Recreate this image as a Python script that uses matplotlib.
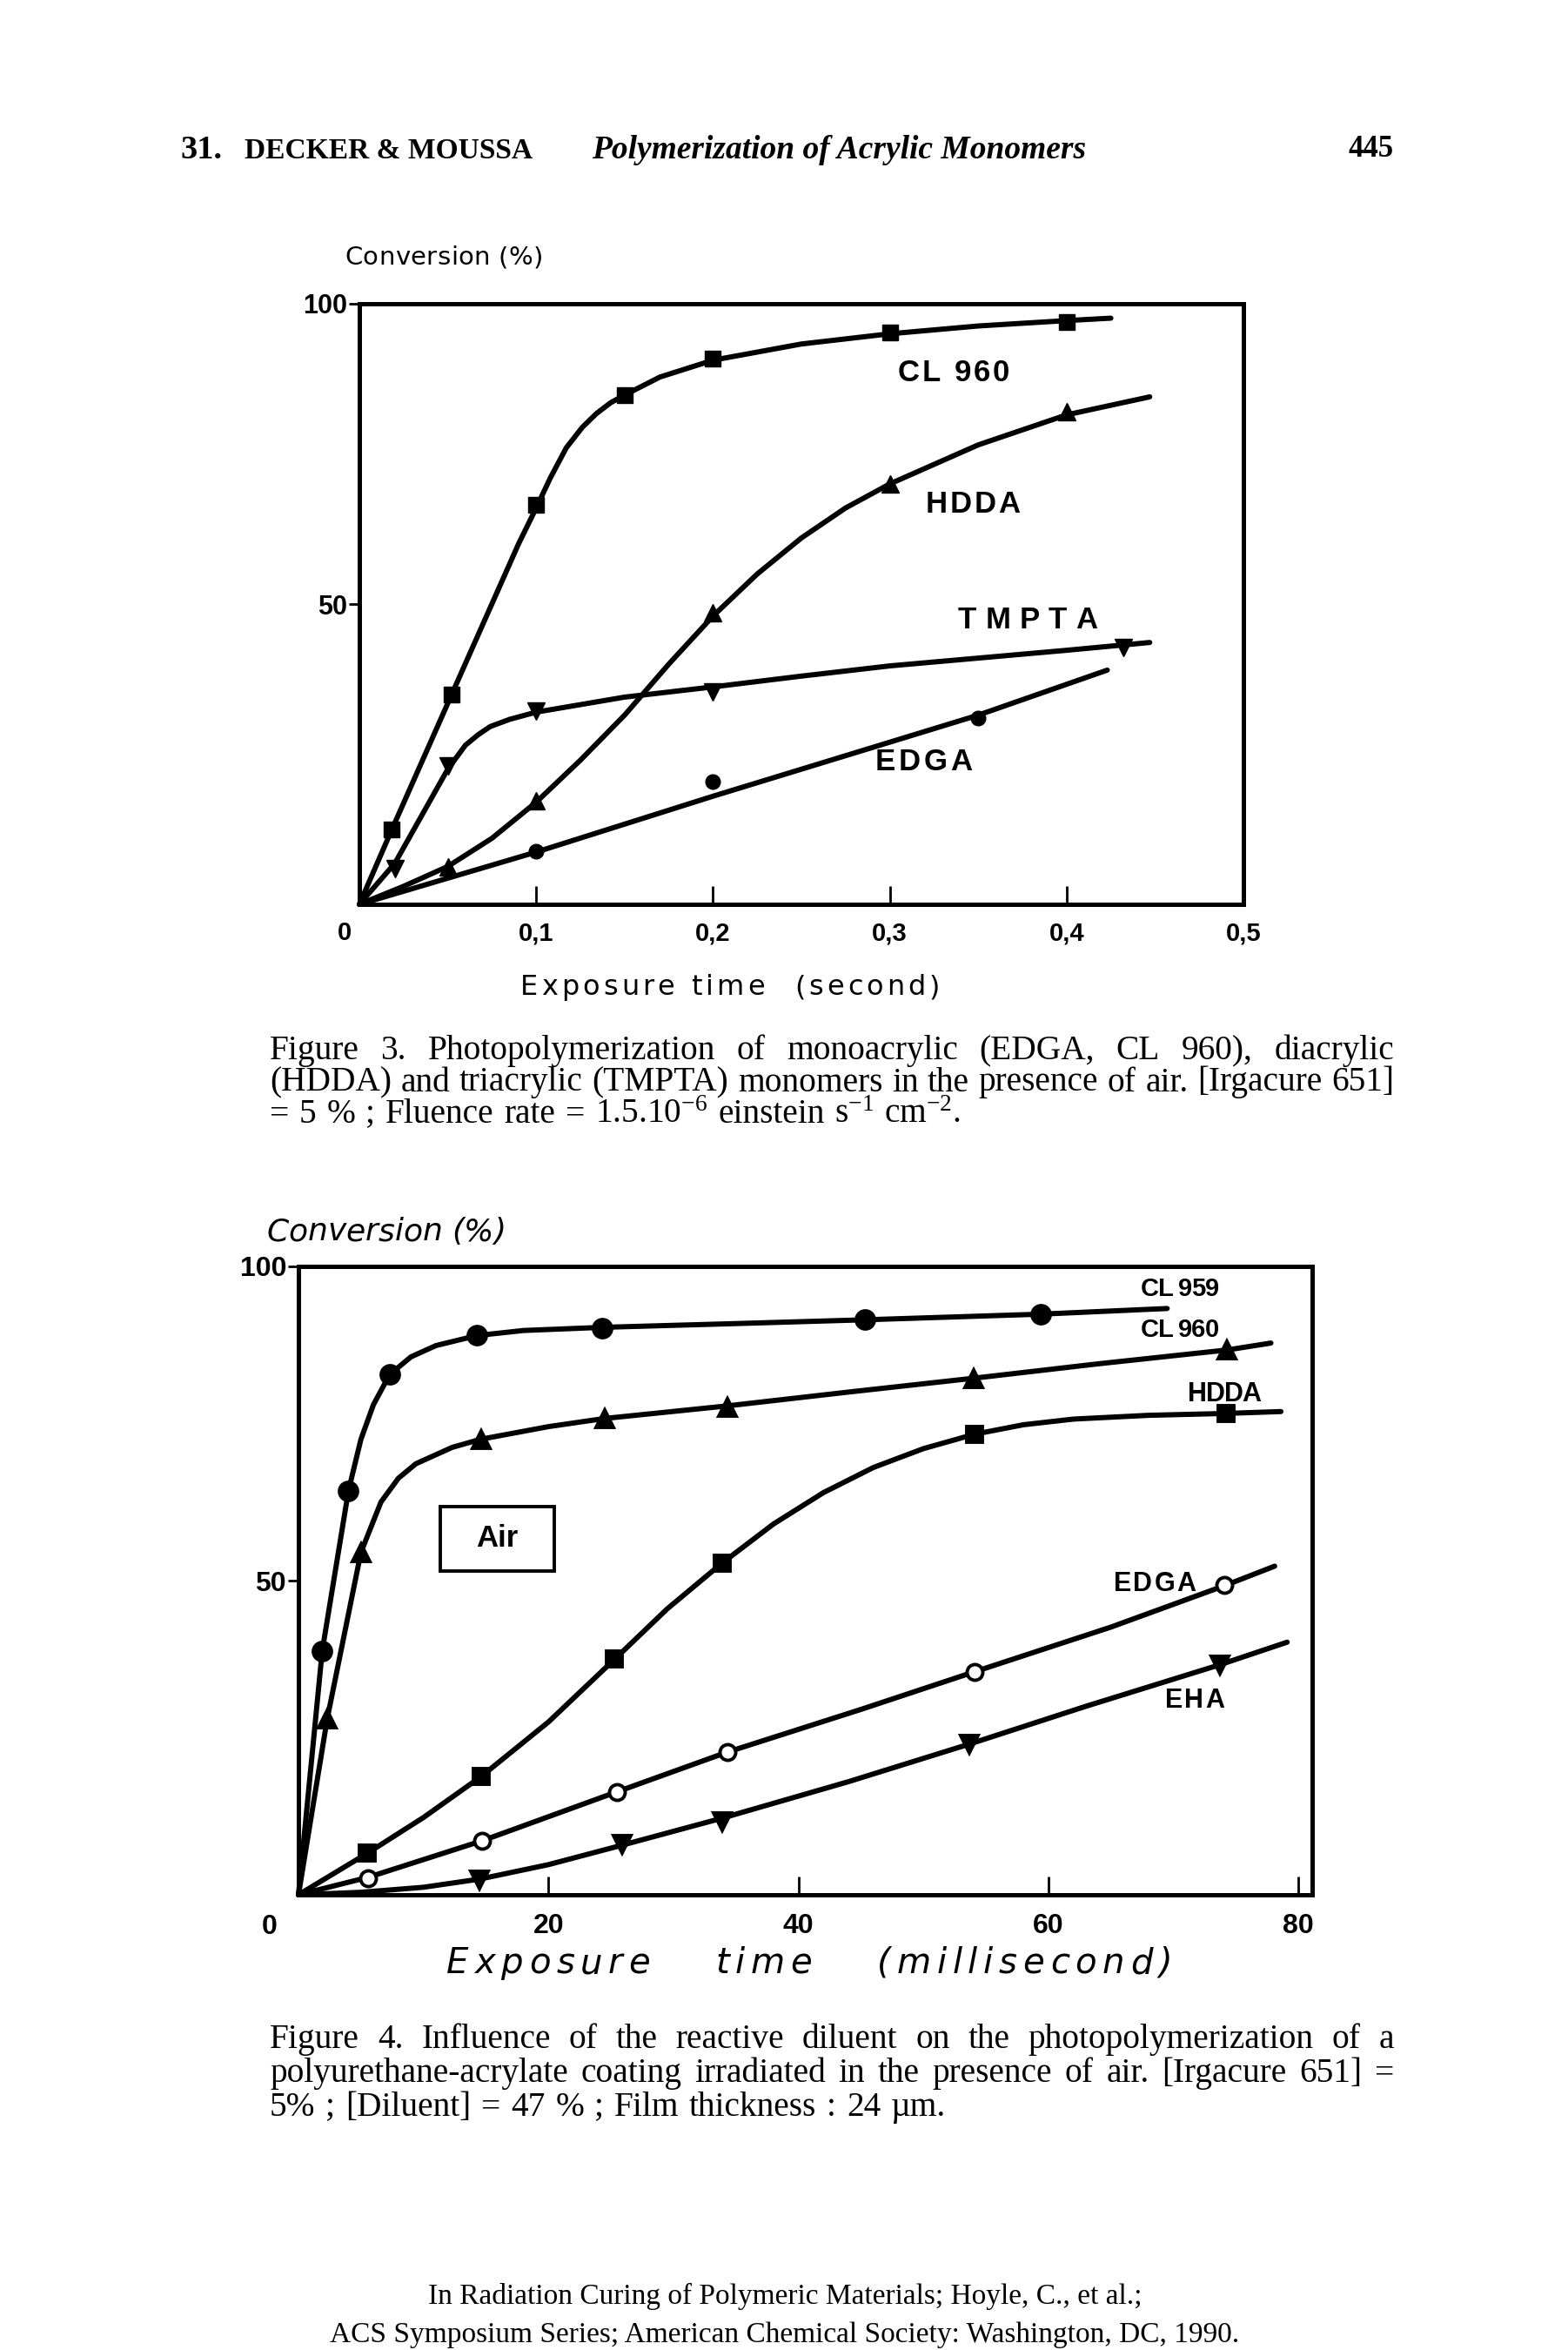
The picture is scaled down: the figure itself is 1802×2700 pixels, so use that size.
import matplotlib
matplotlib.use('Agg')
import matplotlib.pyplot as plt
from matplotlib.patches import Rectangle

plt.rcParams['mathtext.fontset'] = 'custom'
plt.rcParams['mathtext.rm'] = 'Liberation Serif'
plt.rcParams['mathtext.it'] = 'Liberation Serif:italic'
plt.rcParams['mathtext.bf'] = 'Liberation Serif:bold'

# ---------------- Figure 3 data (x: second, y: conversion %) ----------------
f3_xticks = [0.1, 0.2, 0.3, 0.4, 0.5]
f3_xticklabels = ['0,1', '0,2', '0,3', '0,4', '0,5']
f3_yticks = [50, 100]
f3_yticklabels = ['50', '100']

f3_cl960_mx = [0.018, 0.052, 0.100, 0.150, 0.200, 0.300, 0.400]
f3_cl960_my = [12.5, 35.0, 66.5, 84.8, 90.8, 95.2, 97.0]
f3_cl960_cx = [0, 0.018, 0.052, 0.09, 0.10, 0.108, 0.117, 0.126, 0.134, 0.142, 0.15, 0.17, 0.20, 0.25, 0.30, 0.35, 0.40, 0.425]
f3_cl960_cy = [0, 12.2, 34.8, 60.0, 66.0, 71.0, 76.0, 79.4, 81.7, 83.5, 84.8, 87.8, 90.6, 93.3, 95.0, 96.3, 97.2, 97.6]

f3_hdda_mx = [0.05, 0.10, 0.20, 0.30, 0.40]
f3_hdda_my = [6.2, 17.2, 48.5, 70.0, 82.0]
f3_hdda_cx = [0, 0.025, 0.05, 0.075, 0.10, 0.125, 0.15, 0.175, 0.20, 0.225, 0.25, 0.275, 0.30, 0.35, 0.40, 0.447]
f3_hdda_cy = [0, 3.0, 6.3, 11.0, 17.0, 24.0, 31.5, 40.0, 48.0, 55.0, 61.0, 66.0, 70.0, 76.5, 81.5, 84.5]

f3_tmpta_mx = [0.02, 0.05, 0.10, 0.20, 0.432]
f3_tmpta_my = [6.0, 23.0, 32.2, 35.3, 42.8]
f3_tmpta_cx = [0, 0.02, 0.05, 0.06, 0.067, 0.074, 0.085, 0.10, 0.15, 0.20, 0.25, 0.30, 0.35, 0.40, 0.447]
f3_tmpta_cy = [0, 6.8, 22.5, 26.5, 28.2, 29.6, 30.8, 32.0, 34.5, 36.2, 38.0, 39.7, 41.0, 42.3, 43.6]

f3_edga_mx = [0.10, 0.20, 0.35]
f3_edga_my = [8.8, 20.5, 31.0]
f3_edga_cx = [0, 0.10, 0.20, 0.30, 0.35, 0.423]
f3_edga_cy = [0, 8.7, 18.0, 27.0, 31.5, 39.0]

f3_labels = ['CL 960', 'HDDA', 'TMPTA', 'EDGA']
f3_label_x = [0.336, 0.347, 0.378, 0.319]
f3_label_y = [88.9, 67.0, 47.7, 24.1]

# ---------------- Figure 4 data (x: millisecond, y: conversion %) ----------------
f4_xticks = [20, 40, 60, 80]
f4_xticklabels = ['20', '40', '60', '80']
f4_yticks = [50, 100]
f4_yticklabels = ['50', '100']

f4_cl959_mx = [1.9, 4.0, 7.3, 14.3, 24.3, 45.3, 59.4]
f4_cl959_my = [38.8, 64.3, 82.8, 89.0, 90.2, 91.5, 92.4]
f4_cl959_cx = [0, 1.9, 4.0, 5.0, 6.0, 7.3, 9.0, 11.0, 14.3, 18.0, 24.3, 35.0, 45.3, 59.4, 69.5]
f4_cl959_cy = [0, 38.8, 64.3, 72.5, 78.0, 82.8, 85.6, 87.4, 89.0, 89.8, 90.3, 90.9, 91.5, 92.4, 93.3]

f4_cl960_mx = [2.3, 5.0, 14.6, 24.5, 34.3, 54.0, 74.3]
f4_cl960_my = [28.0, 54.5, 72.4, 75.8, 77.6, 82.2, 86.7]
f4_cl960_cx = [0, 2.3, 5.0, 6.6, 8.0, 9.4, 12.3, 14.6, 20.0, 24.5, 34.3, 44.0, 54.0, 64.0, 74.3, 77.8]
f4_cl960_cy = [0, 28.0, 54.5, 62.5, 66.3, 68.6, 71.2, 72.5, 74.5, 75.8, 77.8, 80.0, 82.2, 84.5, 86.7, 87.8]

f4_hdda_mx = [5.5, 14.6, 25.3, 33.9, 54.1, 74.2]
f4_hdda_my = [6.6, 18.8, 37.5, 52.8, 73.3, 76.6]
f4_hdda_cx = [0, 5.5, 10.0, 14.6, 20.0, 25.3, 29.5, 33.9, 38.0, 42.0, 46.0, 50.0, 54.1, 58.0, 62.0, 68.0, 74.2, 78.6]
f4_hdda_cy = [0, 6.6, 12.3, 18.8, 27.5, 37.5, 45.5, 52.8, 59.0, 64.0, 68.0, 71.0, 73.3, 74.8, 75.7, 76.3, 76.6, 76.9]

f4_edga_mx = [5.6, 14.7, 25.5, 34.3, 54.1, 74.1]
f4_edga_my = [2.6, 8.6, 16.4, 22.7, 35.5, 49.3]
f4_edga_cx = [0, 5.6, 14.7, 25.5, 34.3, 45.0, 54.1, 65.0, 74.1, 78.1]
f4_edga_cy = [0, 2.8, 8.6, 16.4, 22.7, 29.5, 35.5, 42.6, 49.2, 52.3]

f4_eha_mx = [14.5, 25.9, 33.9, 53.7, 73.7]
f4_eha_my = [2.3, 8.0, 11.7, 24.0, 36.6]
f4_eha_cx = [0, 5.0, 10.0, 14.5, 20.0, 25.9, 33.9, 44.0, 53.7, 63.0, 73.7, 79.1]
f4_eha_cy = [0, 0.4, 1.2, 2.5, 4.8, 7.9, 12.2, 18.0, 24.0, 30.0, 36.6, 40.2]

f4_labels = ['CL 959', 'CL 960', 'HDDA', 'EDGA', 'EHA']
f4_label_x = [70.5, 70.5, 74.1, 68.5, 71.7]
f4_label_y = [96.8, 90.2, 80.1, 49.9, 31.3]

# ---------------- text ----------------
header_num = '31.'
header_auth = 'DECKER & MOUSSA'
header_title = 'Polymerization of Acrylic Monomers'
header_page = '445'

cap3 = ['Figure 3.  Photopolymerization of monoacrylic (EDGA, CL 960), diacrylic',
        '(HDDA) and triacrylic (TMPTA) monomers in the presence of air. [Irgacure 651]',
        '= 5 % ; Fluence rate = 1.5.10$^{-6}$ einstein s$^{-1}$ cm$^{-2}$.']
cap4 = ['Figure 4.  Influence of the reactive diluent on the photopolymerization of a',
        'polyurethane-acrylate coating irradiated in the presence of air. [Irgacure 651] =',
        '5% ; [Diluent] = 47 % ;  Film  thickness : 24 \u00b5m.']
footer = ['In Radiation Curing of Polymeric Materials; Hoyle, C., et al.;',
          'ACS Symposium Series; American Chemical Society: Washington, DC, 1990.']

# ---------------- figure ----------------
W, H = 1802, 2700
fig = plt.figure(figsize=(W / 100, H / 100), dpi=100)
fig.patch.set_facecolor('white')
R = fig.canvas.get_renderer()


def px(x):
    return x / W


def py(y):
    return 1 - y / H


def fit(t, width):
    w = t.get_window_extent(R).width
    t.set_fontsize(t.get_fontsize() * width / w)
    return t


def ftext(x, y, s, width=None, size=20, **kw):
    kw.setdefault('va', 'center')
    t = fig.text(px(x), py(y), s, fontsize=size, **kw)
    if width:
        fit(t, width)
    return t


def spaced(xc, ybase, s, size, width, space_em=0.6, **kw):
    """letter-spaced text centred on xc, spread to the given width"""
    ts, ws = [], []
    for ch in s:
        if ch == ' ':
            ts.append(None)
            ws.append(size * 100 / 72 * space_em)
            continue
        t = fig.text(0, py(ybase), ch, fontsize=size, va='baseline', **kw)
        ts.append(t)
        ws.append(t.get_window_extent(R).width)
    track = (width - sum(ws)) / (len(s) - 1)
    x = xc - width / 2
    for t, w in zip(ts, ws):
        if t is not None:
            t.set_x(px(x))
        x += w + track


def data_label(ax, x, y, s, size, width, space_em=0.35, **kw):
    dx, dy = ax.transData.transform((x, y))
    ytop = H - dy
    spaced(dx, ytop + 0.36 * size * 100 / 72, s, size, width, space_em=space_em, **kw)


def caption(lines, left, right, y0, dy, size):
    for i, line in enumerate(lines):
        words = line.split()
        ts = [fig.text(0, py(y0 + i * dy), w, fontsize=size,
                       family='Liberation Serif', va='baseline') for w in words]
        ws = [t.get_window_extent(R).width for t in ts]
        if i < len(lines) - 1:
            gap = (right - left - sum(ws)) / (len(ws) - 1)
        else:
            gap = size * 100 / 72 * 0.3
        x = left
        for t, w in zip(ts, ws):
            t.set_x(px(x))
            x += w + gap


def caption_size(all_lines, width, base=20):
    best = 1e9
    for line in all_lines:
        words = line.split()
        ts = [fig.text(0, 0, w, fontsize=base, family='Liberation Serif') for w in words]
        tot = sum(t.get_window_extent(R).width for t in ts)
        for t in ts:
            t.remove()
        tot += (len(words) - 1) * base * 100 / 72 * 0.27
        best = min(best, base * width / tot)
    return best


# header
ftext(207, 172, header_num, width=48, family='Liberation Serif', weight='bold')
ftext(281, 174, header_auth, width=331, family='Liberation Serif', weight='bold')
ftext(680, 172, header_title, width=569, family='Liberation Serif', weight='bold', style='italic')
ftext(1602, 172, header_page, width=52, family='Liberation Serif', weight='bold', ha='right')

tickfont = dict(family='Liberation Sans', weight='bold')
LW = 4.3

# ---------------- top axes (Figure 3) ----------------
ax1 = fig.add_axes([px(413), py(1039), (1429 - 413) / W, (1039 - 349) / H])
ax1.set_xlim(0, 0.5)
ax1.set_ylim(0, 100)
for s in ax1.spines.values():
    s.set_linewidth(3.6)
ax1.set_xticks(f3_xticks)
ax1.set_xticklabels(f3_xticklabels, fontsize=21, **tickfont)
ax1.set_yticks(f3_yticks)
ax1.set_yticklabels(f3_yticklabels, fontsize=22, **tickfont)
ax1.tick_params(axis='x', direction='in', length=15, width=2, pad=14)
ax1.tick_params(axis='y', direction='out', length=9, width=2, pad=1)

for cx, cy, mx, my, mk, ms in [
        (f3_cl960_cx, f3_cl960_cy, f3_cl960_mx, f3_cl960_my, 's', 13),
        (f3_hdda_cx, f3_hdda_cy, f3_hdda_mx, f3_hdda_my, '^', 14),
        (f3_tmpta_cx, f3_tmpta_cy, f3_tmpta_mx, f3_tmpta_my, 'v', 14),
        (f3_edga_cx, f3_edga_cy, f3_edga_mx, f3_edga_my, 'o', 12)]:
    ax1.plot(cx, cy, color='black', lw=LW, solid_joinstyle='round',
             solid_capstyle='round', clip_on=False, zorder=2)
    ax1.plot(mx, my, linestyle='none', marker=mk, ms=ms, color='black', zorder=3)

for s, x, y, w in zip(f3_labels, f3_label_x, f3_label_y, [129, 108, 160, 112]):
    data_label(ax1, x, y, s, 25, w, space_em=0.3, **tickfont)

ftext(396, 1072, '0', size=21, ha='center', **tickfont)
spaced(396 + 114, 304, 'Conversion (%)', 21, 228, space_em=0.3, family='DejaVu Sans')
spaced(839, 1143, 'Exposure time  (second)', 23, 482, space_em=0.35, family='DejaVu Sans')

# ---------------- bottom axes (Figure 4) ----------------
ax2 = fig.add_axes([px(343), py(2177), (1508 - 343) / W, (2177 - 1455) / H])
ax2.set_xlim(0, 81.1)
ax2.set_ylim(0, 100)
for s in ax2.spines.values():
    s.set_linewidth(3.6)
ax2.set_xticks(f4_xticks)
ax2.set_xticklabels(f4_xticklabels, fontsize=23, **tickfont)
ax2.set_yticks(f4_yticks)
ax2.set_yticklabels(f4_yticklabels, fontsize=23, **tickfont)
ax2.tick_params(axis='x', direction='in', length=15, width=2, pad=15)
ax2.tick_params(axis='y', direction='out', length=9, width=2, pad=1)

for cx, cy, mx, my, mk, ms, mfc in [
        (f4_cl959_cx, f4_cl959_cy, f4_cl959_mx, f4_cl959_my, 'o', 15, 'black'),
        (f4_cl960_cx, f4_cl960_cy, f4_cl960_mx, f4_cl960_my, '^', 15, 'black'),
        (f4_hdda_cx, f4_hdda_cy, f4_hdda_mx, f4_hdda_my, 's', 13, 'black'),
        (f4_edga_cx, f4_edga_cy, f4_edga_mx, f4_edga_my, 'o', 13, 'white'),
        (f4_eha_cx, f4_eha_cy, f4_eha_mx, f4_eha_my, 'v', 15, 'black')]:
    ax2.plot(cx, cy, color='black', lw=LW, solid_joinstyle='round',
             solid_capstyle='round', clip_on=False, zorder=2)
    ax2.plot(mx, my, linestyle='none', marker=mk, ms=ms, mfc=mfc, mec='black',
             mew=2.8, zorder=3)

for s, x, y, w, sz in zip(f4_labels, f4_label_x, f4_label_y, [90, 90, 84, 94, 68],
                          [21, 21, 22, 22, 22]):
    data_label(ax2, x, y, s, sz, w, space_em=0.25, **tickfont)

ax2.add_patch(Rectangle((11.35, 51.5), 20.5 - 11.35, 61.8 - 51.5, fill=False,
                        edgecolor='black', lw=2.8, zorder=4))
ax2.text((11.35 + 20.5) / 2, (51.5 + 61.8) / 2, 'Air', ha='center', va='center',
         fontsize=25, **tickfont)

ftext(310, 2214, '0', size=23, ha='center', **tickfont)
spaced(307 + 137, 1425, 'Conversion (%)', 26, 275, space_em=0.3,
       family='DejaVu Sans', style='italic')
spaced(930, 2267, 'Exposure   time   (millisecond)', 29, 834, space_em=0.4,
       family='DejaVu Sans', style='italic')

# ---------------- captions & footer ----------------
csize = caption_size(cap3[:2] + cap4[:2], 1292)
caption(cap3, 310, 1602, 1217, 36.5, csize)
caption(cap4, 310, 1602, 2353, 39, csize)

ftext(902, 2638, footer[0], width=822, family='Liberation Serif', ha='center')
ftext(902, 2683, footer[1], width=1047, family='Liberation Serif', ha='center')

fig.savefig('out.png', dpi=100, facecolor='white')
